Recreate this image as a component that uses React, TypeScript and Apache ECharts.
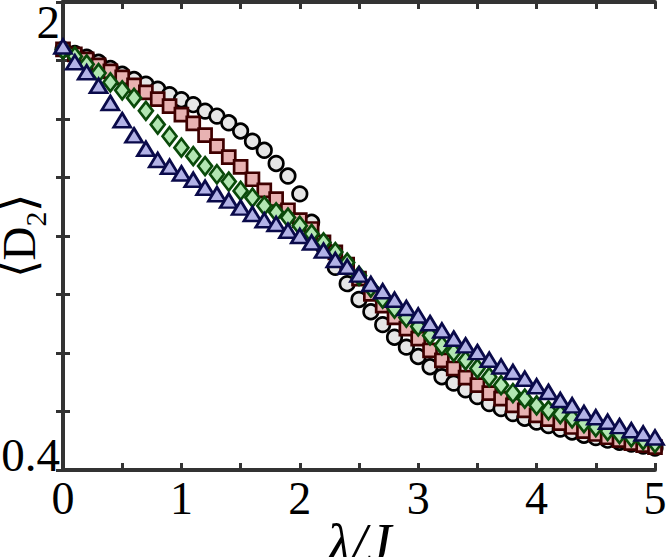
import React, { useEffect, useRef } from "react";
import * as echarts from "echarts";

const xs = [0, 0.1, 0.2, 0.3, 0.4, 0.5, 0.6, 0.7, 0.8, 0.9, 1.0, 1.1, 1.2, 1.3, 1.4, 1.5, 1.6, 1.7, 1.8, 1.9, 2.0, 2.1, 2.2, 2.3, 2.4, 2.5, 2.6, 2.7, 2.8, 2.9, 3.0, 3.1, 3.2, 3.3, 3.4, 3.5, 3.6, 3.7, 3.8, 3.9, 4.0, 4.1, 4.2, 4.3, 4.4, 4.5, 4.6, 4.7, 4.8, 4.9, 5.0];

const circles = [1.838, 1.824, 1.811, 1.794, 1.773, 1.753, 1.735, 1.719, 1.702, 1.683, 1.666, 1.649, 1.627, 1.61, 1.587, 1.559, 1.524, 1.493, 1.448, 1.405, 1.344, 1.247, 1.163, 1.093, 1.037, 0.983, 0.941, 0.897, 0.854, 0.82, 0.788, 0.753, 0.719, 0.697, 0.674, 0.651, 0.627, 0.61, 0.593, 0.577, 0.564, 0.552, 0.54, 0.53, 0.519, 0.511, 0.502, 0.495, 0.489, 0.482, 0.475];

const squares = [1.838, 1.821, 1.804, 1.783, 1.763, 1.742, 1.715, 1.691, 1.668, 1.644, 1.615, 1.585, 1.545, 1.507, 1.47, 1.436, 1.394, 1.356, 1.326, 1.288, 1.254, 1.224, 1.178, 1.144, 1.102, 1.054, 1.002, 0.962, 0.922, 0.883, 0.849, 0.809, 0.775, 0.747, 0.716, 0.69, 0.663, 0.644, 0.621, 0.604, 0.587, 0.574, 0.56, 0.547, 0.533, 0.523, 0.512, 0.502, 0.492, 0.485, 0.478];

const diamonds = [1.838, 1.814, 1.787, 1.757, 1.725, 1.698, 1.672, 1.628, 1.581, 1.541, 1.502, 1.473, 1.439, 1.411, 1.386, 1.354, 1.331, 1.303, 1.281, 1.263, 1.235, 1.207, 1.178, 1.145, 1.109, 1.064, 1.024, 0.986, 0.952, 0.921, 0.891, 0.86, 0.826, 0.803, 0.775, 0.747, 0.718, 0.69, 0.663, 0.644, 0.621, 0.604, 0.591, 0.577, 0.56, 0.547, 0.533, 0.523, 0.512, 0.502, 0.492];

const triangles = [1.848, 1.794, 1.76, 1.714, 1.655, 1.596, 1.544, 1.498, 1.46, 1.437, 1.414, 1.392, 1.365, 1.343, 1.321, 1.297, 1.275, 1.254, 1.241, 1.218, 1.2, 1.178, 1.15, 1.118, 1.095, 1.068, 1.036, 1.011, 0.982, 0.954, 0.928, 0.902, 0.877, 0.849, 0.826, 0.803, 0.777, 0.754, 0.735, 0.712, 0.686, 0.667, 0.639, 0.621, 0.595, 0.58, 0.565, 0.55, 0.536, 0.525, 0.511];

const xTickLabels = ["0", "1", "2", "3", "4", "5"];
const yTopLabel = "2";
const yBottomLabel = "0.4";

const FONT = "'Liberation Serif', 'Times New Roman', serif";
const AXIS_COLOR = "#333333";

export default function App() {
  const ref = useRef<HTMLDivElement>(null);
  useEffect(() => {
    if (!ref.current) return;
    const chart = echarts.init(ref.current, null, { renderer: "svg" });
    const pts = (arr: number[]) => xs.map((x, i) => [x, arr[i]]);
    const axisLine = { show: true, lineStyle: { color: AXIS_COLOR, width: 4 } };
    const axisTick = { show: true, inside: true, length: 7, lineStyle: { color: AXIS_COLOR, width: 3 } };
    const mk = (name: string, data: number[], symbol: string, size: any, fill: string, border: string) => ({
      name,
      type: "scatter",
      data: pts(data),
      symbol,
      symbolSize: size,
      clip: false,
      itemStyle: { color: fill, borderColor: border, borderWidth: 2.7, opacity: 1 },
      emphasis: { disabled: true },
    });
    chart.setOption({
      animation: false,
      backgroundColor: "#ffffff",
      grid: { left: 63, right: 11, top: 2, bottom: 87, containLabel: false, outerBoundsMode: "none" },
      xAxis: [
        {
          type: "value", min: 0, max: 5, interval: 0.5, position: "bottom",
          axisLine, axisTick, splitLine: { show: false },
          axisLabel: {
            formatter: (v: number) => (Math.abs(v - Math.round(v)) < 1e-9 ? xTickLabels[Math.round(v)] : ""),
            fontFamily: FONT, fontSize: 46, color: "#000", margin: 5,
          },
          name: "λ/J", nameLocation: "middle", nameGap: 46, nameMoveOverlap: false,
          nameTextStyle: { fontFamily: FONT, fontStyle: "italic", fontSize: 56, color: "#000" },
        },
        {
          type: "value", min: 0, max: 5, interval: 0.5, position: "top",
          axisLine, axisTick, splitLine: { show: false }, axisLabel: { show: false },
        },
      ],
      yAxis: [
        {
          type: "value", min: 0.4, max: 2, interval: 0.2, position: "left",
          axisLine, axisTick, splitLine: { show: false },
          axisLabel: {
            formatter: (v: number) => (Math.abs(v - 2) < 1e-9 ? yTopLabel : ""),
            fontFamily: FONT, fontSize: 47, lineHeight: 40, color: "#000", margin: 3, verticalAlign: "top",
          },
          name: "{a|⟨D}{s|2}{a|⟩}", nameLocation: "middle", nameRotate: 90, nameGap: 13, nameMoveOverlap: false,
          nameTextStyle: {
            fontFamily: FONT, fontSize: 47, color: "#000",
            rich: {
              a: { fontFamily: FONT, fontSize: 47, color: "#000" },
              s: { fontFamily: FONT, fontSize: 30, color: "#000", padding: [32, 0, 0, 0] },
            },
          },
        },
        {
          type: "value", min: 0.4, max: 2, interval: 0.2, position: "right",
          axisLine, axisTick, splitLine: { show: false }, axisLabel: { show: false },
        },
        {
          type: "value", min: 0.4, max: 2, interval: 0.2, position: "left",
          axisLine: { show: false }, axisTick: { show: false }, splitLine: { show: false },
          axisLabel: {
            formatter: (v: number) => (Math.abs(v - 0.4) < 1e-9 ? yBottomLabel : ""),
            fontFamily: FONT, fontSize: 47, lineHeight: 30, color: "#000", margin: 3, verticalAlign: "bottom",
          },
        },
      ],
      series: [
        mk("circle", circles, "circle", 14.5, "#e6e6e6", "#000000"),
        mk("square", squares, "rect", 13, "#e8b2b2", "#3f0000"),
        mk("diamond", diamonds, "diamond", [14, 18], "#b2e6b2", "#0a4a0a"),
        mk("triangle", triangles, "triangle", [17, 14], "#b2b2e6", "#0a0a4a"),
      ],
    });
    return () => chart.dispose();
  }, []);
  return <div ref={ref} style={{ position: "fixed", left: 0, top: 0, width: 666, height: 557 }} />;
}
